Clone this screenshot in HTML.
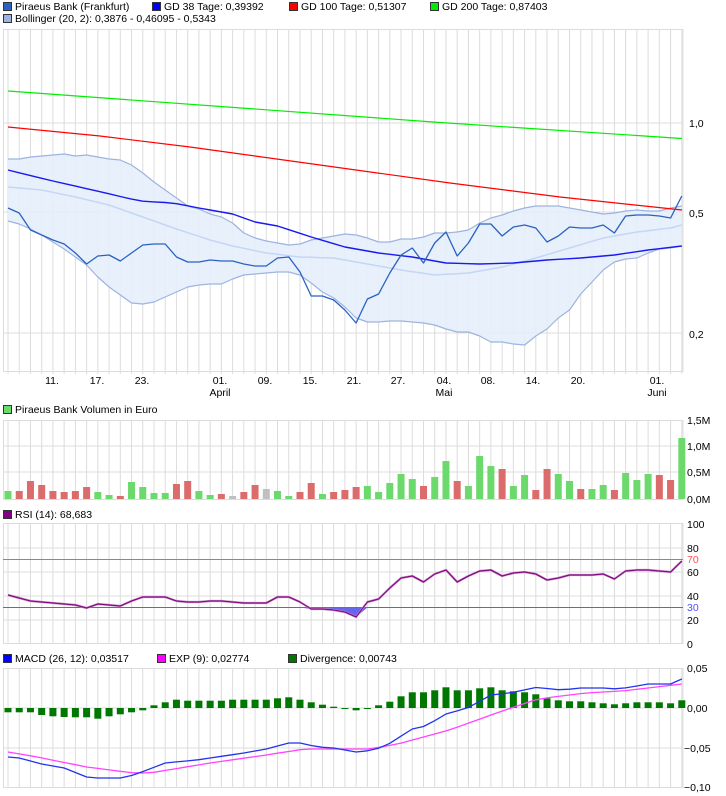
<!DOCTYPE html>
<html><head><meta charset="utf-8"><style>
html,body{margin:0;padding:0;background:#fff;width:726px;height:796px;overflow:hidden}
svg{display:block}
text{font-family:"Liberation Sans",sans-serif;font-size:10.5px;fill:#000}
</style></head><body>
<svg id="s" width="726" height="796" xmlns="http://www.w3.org/2000/svg">
<rect width="726" height="796" fill="#fff"/>
<g id="grid"></g>
<g id="series"></g>
<!-- legends -->
<rect x="3.5" y="2.5" width="8" height="8" fill="#2a62c0" stroke="#333"/><text x="15" y="10">Piraeus Bank (Frankfurt)</text>
<rect x="152.5" y="2.5" width="8" height="8" fill="#0000ff" stroke="#333"/><text x="164" y="10">GD 38 Tage: 0,39392</text>
<rect x="289.5" y="2.5" width="8" height="8" fill="#ff0000" stroke="#333"/><text x="301" y="10">GD 100 Tage: 0,51307</text>
<rect x="430.5" y="2.5" width="8" height="8" fill="#00ee00" stroke="#333"/><text x="442" y="10">GD 200 Tage: 0,87403</text>
<rect x="3.5" y="14.5" width="8" height="8" fill="#9db4e0" stroke="#333"/><text x="15" y="22">Bollinger (20, 2): 0,3876 - 0,46095 - 0,5343</text>
<rect x="3.5" y="405.5" width="8" height="8" fill="#6cd96c" stroke="#333"/><text x="15" y="413">Piraeus Bank Volumen in Euro</text>
<rect x="3.5" y="510.5" width="8" height="8" fill="#800080" stroke="#333"/><text x="15" y="518">RSI (14): 68,683</text>
<rect x="3.5" y="654.5" width="8" height="8" fill="#0000ff" stroke="#333"/><text x="15" y="662">MACD (26, 12): 0,03517</text>
<rect x="157.5" y="654.5" width="8" height="8" fill="#ff00ff" stroke="#333"/><text x="169" y="662">EXP (9): 0,02774</text>
<rect x="288.5" y="654.5" width="8" height="8" fill="#007700" stroke="#333"/><text x="300" y="662">Divergence: 0,00743</text>
<!-- y labels -->
<text x="689" y="127">1,0</text><text x="689" y="217">0,5</text><text x="689" y="338">0,2</text>
<text x="687" y="424">1,5M</text><text x="687" y="450">1,0M</text><text x="687" y="476">0,5M</text><text x="687" y="503">0,0M</text>
<text x="687" y="528">100</text><text x="687" y="552">80</text><text x="687" y="563" style="fill:#ff5050">70</text><text x="687" y="576">60</text><text x="687" y="600">40</text><text x="687" y="611" style="fill:#5050ff">30</text><text x="687" y="624">20</text><text x="687" y="648">0</text>
<text x="687" y="672">0,05</text><text x="687" y="712">0,00</text><text x="684" y="752">−0,05</text><text x="684" y="791">−0,10</text>
<!-- x labels -->
<g text-anchor="middle">
<text x="52" y="384">11.</text><text x="97" y="384">17.</text><text x="142" y="384">23.</text><text x="220" y="384">01.</text><text x="220" y="396">April</text>
<text x="265" y="384">09.</text><text x="310" y="384">15.</text><text x="354" y="384">21.</text><text x="398" y="384">27.</text><text x="444" y="384">04.</text><text x="444" y="396">Mai</text>
<text x="488" y="384">08.</text><text x="533" y="384">14.</text><text x="578" y="384">20.</text><text x="657" y="384">01.</text><text x="657" y="396">Juni</text>
</g>
</svg>
<script>
var NS="http://www.w3.org/2000/svg",G=document.getElementById("grid"),S=document.getElementById("series");
function el(p,t,a){var e=document.createElementNS(NS,t);for(var k in a)e.setAttribute(k,a[k]);p.appendChild(e);return e;}
function X(i){return 8+i*11.23;}
function interp(kp){var o=[];for(var i=0;i<=60;i++){for(var j=0;j<kp.length-1;j++){var a=kp[j],b=kp[j+1];if(i>=a[0]&&i<=b[0]){o.push(a[1]+(b[1]-a[1])*(i-a[0])/(b[0]-a[0]));break;}}}return o;}
function pts(a){return a.map(function(v,i){return X(i).toFixed(1)+","+v.toFixed(1)}).join(" ");}
function line(a,c,w){el(S,"polyline",{points:pts(a),fill:"none",stroke:c,"stroke-width":w||1.2,"stroke-linejoin":"round"});}
// panels: [top,bottom,hlines]
var panels=[[29,371,[123,212,333]],[420,499,[446,472]],[523,643,[548,572,596,620]],[668,787,[708,748]]];
panels.forEach(function(p){
 for(var i=0;i<=60;i++)el(G,"line",{x1:X(i),x2:X(i),y1:p[0],y2:p[1]+(p[0]==29?3:0),stroke:"#dcdcdc","stroke-width":1});
 p[2].forEach(function(y){el(G,"line",{x1:3,x2:683,y1:y,y2:y,stroke:"#dcdcdc"});});
 el(G,"rect",{x:3.5,y:p[0]+.5,width:679.5,height:p[1]-p[0],fill:"none",stroke:"#dcdcdc"});
});
// Main chart
var up=[159,159,157,156,155,154,156,155,157,159,160,165,173,182,190,198,206,209,214,217,223,233,238,241,243,245,244,240,238,236,234,235,238,242,242,239,239,237,233,233,232,230,223,218,215,211,208,206,206,206,208,210,212,214,213,211,210,211,211,208,206];
var lo=[221,224,229,235,242,249,257,265,277,287,295,303,304,302,297,292,287,285,284,284,279,275,274,273,272,272,275,283,292,298,307,318,322,322,321,321,322,323,325,329,332,332,336,342,342,344,345,336,329,318,310,294,282,270,262,259,258,253,249,248,246];
var mid=interp([[0,187],[3,190],[6,197],[9,205],[12,217],[15,229],[18,240],[20,246],[23,253],[26,257],[29,258],[32,264],[35,270],[38,275],[41,273],[44,267],[47,258],[50,248],[53,238],[56,232],[59,228],[60,225]]);
var gd38=interp([[0,170],[3.6,180],[8.7,193],[11.7,201],[14.7,203],[17,208],[20,214],[22,222],[24,226],[27,237],[30,247],[33,253],[36,257],[39,263],[42,264],[45,263],[48,260],[51,258],[54,255],[57,250],[60,246]]);
var price=[208,213,230,235,240,244,253,264,256,255,261,253,245,244,244,257,262,262,260,261,261,264,266,266,258,257,272,296,296,300,310,323,299,294,273,255,248,263,243,232,256,243,224,224,236,227,225,228,242,236,227,228,228,225,233,216,215,215,216,218,196];
var band=pts(up)+" "+lo.map(function(v,i){return X(i).toFixed(1)+","+v}).reverse().join(" ");
el(S,"polygon",{points:band,fill:"#e6eefb","fill-opacity":0.9,stroke:"none"});
line(up,"#9db4e0",1.2);line(lo,"#9db4e0",1.2);line(mid,"#c4d6f5",1.5);
el(S,"polyline",{points:"8,91 440,122.5 682,138.5",fill:"none",stroke:"#00ee00","stroke-width":1.2});
el(S,"polyline",{points:"8,127 100,136 190,147 320,165 450,183 560,197 682,210",fill:"none",stroke:"#ff0000","stroke-width":1.2});
line(gd38,"#1a1aee",1.4);line(price,"#2a62c0",1.3);
// Volume
var vol=[["g",8],["r",8],["r",18],["r",14],["r",8],["r",7],["r",8],["r",12],["g",7],["g",4],["r",3],["g",17],["g",12],["g",6],["g",6],["r",15],["r",18],["g",8],["g",4],["r",5],["y",3],["r",7],["r",14],["y",10],["g",8],["g",3],["r",7],["r",16],["g",5],["r",7],["r",9],["r",12],["g",13],["g",7],["g",16],["g",25],["g",20],["r",13],["g",22],["g",38],["r",18],["g",13],["g",43],["g",33],["r",30],["g",13],["g",24],["r",9],["r",30],["g",25],["g",18],["r",10],["g",10],["g",14],["r",9],["g",26],["g",19],["g",25],["r",24],["r",19],["g",61]];
var vc={g:"#6cd96c",r:"#dc6b6b",y:"#c0c0c0"};
vol.forEach(function(v,i){el(S,"rect",{x:X(i)-3.5,y:499-v[1],width:7,height:v[1],fill:vc[v[0]]});});
// RSI
el(S,"line",{x1:3,x2:683,y1:559.5,y2:559.5,stroke:"#e86060"});
el(S,"line",{x1:3,x2:683,y1:607.5,y2:607.5,stroke:"#6060e0"});
var rsi=[595,598,601,602,603,604,605,608,604,605,606,601,597,597,597,601,602,602,601,601,602,603,603,603,597,597,602,609,609,610,612,617,602,599,588,578,576,582,574,570,582,576,571,570,576,573,572,574,580,578,575,575,575,574,579,571,570,570,571,572,561];
var fp="";for(var i=26;i<=32;i++){var y=rsi[i];fp+=X(i).toFixed(1)+","+Math.max(y,607.5)+" ";}
el(S,"polygon",{points:"295,607.5 "+fp+" 367,607.5",fill:"#6666ee"});
line(rsi,"#c080c0",2.2);line(rsi,"#800080",1);
// MACD
var div=[-4.3,-4.3,-4.3,-7,-8.3,-9,-9.3,-9.3,-10.7,-8.3,-6.3,-4.3,-2.3,2.7,5.7,8.3,7.3,7.3,7.3,7.3,8.3,8.3,8.3,8.3,9.7,10.7,8.3,5.7,3.3,1.3,-0.5,-2.3,-0.5,2.7,6.3,11.7,15.7,15.7,17.7,20.7,17.7,17.7,19.7,20.7,17.7,16.7,15.7,13.7,9.7,7.7,6.7,6.7,5.7,4.7,3.7,4.7,5.7,5.7,5.7,4.7,7.7];
div.forEach(function(v,i){var h=Math.max(Math.abs(v),1);el(S,"rect",{x:X(i)-3.5,y:v>0?708-h:708,width:7,height:h,fill:"#007700"});});
var macd=interp([[0,757],[1,758],[3,764],[5,768],[7,777],[8,778],[10,778],[11.2,775],[14,763],[16.8,760],[21,753],[23,749],[25,743],[26,743],[27.6,747],[29,748],[31,752],[32.6,750],[33.9,744],[36,729],[37.2,726],[39.3,712],[40.6,710],[43,695],[44.7,693],[47.2,687],[48.3,689],[49.3,690],[51,688],[53,688],[54.3,689],[55.6,687],[56.8,684],[59.3,684],[60,679]]);
var exp=interp([[0,752],[2.6,757],[7,767],[11.2,773],[12.6,773],[18,763],[23,755],[26.4,749],[32.2,749],[34.7,744],[39.3,730],[43.5,713],[47.2,699],[51.4,693],[54.7,691],[60,684]]);
line(exp,"#ff44ff",1.3);line(macd,"#2233ee",1.3);
</script>
</body></html>
